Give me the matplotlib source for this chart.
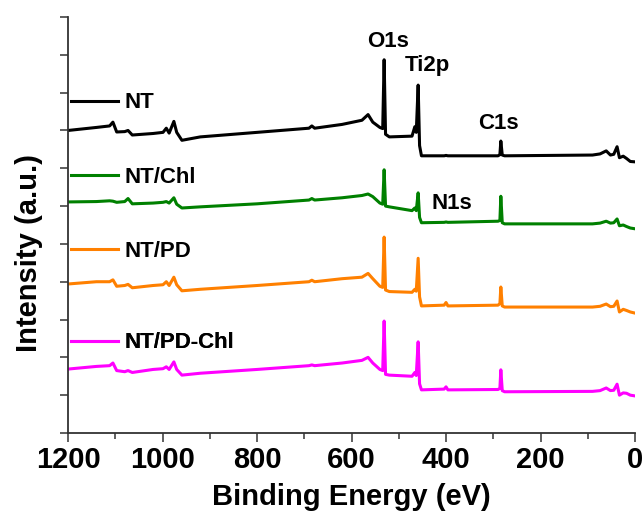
import numpy as np
import matplotlib
matplotlib.use('Agg')
from matplotlib import pyplot as plt

plt.rcParams['font.family'] = ['Liberation Sans', 'DejaVu Sans']
plt.rcParams['font.weight'] = 'bold'

# Binding energy grid (eV) shared by all four survey spectra
energy = [1200, 1140, 1112, 1105, 1097, 1080, 1073, 1064, 1020, 999,
          992, 986, 976, 970, 959, 920, 800, 690, 684, 678,
          620, 578, 565, 555, 540, 534, 531, 528, 520, 472,
          466, 463, 459, 456, 452, 404, 400, 396, 290, 286,
          284, 281, 276, 90, 74, 61, 52, 45, 38, 33,
          25, 18, 10, 0]

nt = [8.00, 8.08, 8.12, 8.22, 7.96, 7.97, 8.00, 7.88, 7.92, 7.95,
      8.06, 7.93, 8.24, 7.95, 7.74, 7.83, 7.95, 8.06, 8.12, 8.06,
      8.16, 8.27, 8.42, 8.22, 8.08, 8.05, 9.87, 7.90, 7.83, 7.85,
      8.10, 7.95, 9.20, 7.60, 7.33, 7.33, 7.34, 7.33, 7.33, 7.36,
      7.72, 7.35, 7.33, 7.35, 7.38, 7.46, 7.35, 7.37, 7.57, 7.28,
      7.32, 7.26, 7.18, 7.17]

nt_chl = [6.11, 6.12, 6.14, 6.13, 6.10, 6.12, 6.20, 6.06, 6.08, 6.10,
          6.12, 6.08, 6.22, 6.05, 5.95, 5.98, 6.06, 6.16, 6.20, 6.16,
          6.22, 6.28, 6.32, 6.25, 6.08, 6.05, 6.96, 6.00, 5.98, 5.88,
          5.95, 5.88, 6.35, 5.70, 5.56, 5.57, 5.58, 5.57, 5.60, 5.62,
          6.26, 5.56, 5.53, 5.53, 5.55, 5.60, 5.55, 5.56, 5.66, 5.48,
          5.50, 5.46, 5.42, 5.40]

nt_pd = [3.94, 4.00, 4.00, 4.05, 3.88, 3.90, 3.93, 3.84, 3.90, 3.92,
         4.00, 3.90, 4.12, 3.92, 3.76, 3.80, 3.90, 4.00, 4.04, 4.00,
         4.08, 4.12, 4.22, 4.08, 3.88, 3.85, 5.18, 3.78, 3.74, 3.72,
         3.80, 3.75, 4.62, 3.60, 3.36, 3.38, 3.45, 3.36, 3.38, 3.42,
         3.86, 3.36, 3.33, 3.33, 3.35, 3.41, 3.34, 3.35, 3.49, 3.20,
         3.27, 3.24, 3.20, 3.17]

nt_pd_chl = [1.69, 1.76, 1.78, 1.85, 1.65, 1.62, 1.65, 1.60, 1.68, 1.70,
             1.75, 1.68, 1.88, 1.68, 1.53, 1.58, 1.68, 1.78, 1.80, 1.78,
             1.85, 1.92, 2.00, 1.85, 1.68, 1.65, 2.96, 1.55, 1.53, 1.50,
             1.60, 1.52, 2.41, 1.30, 1.14, 1.16, 1.22, 1.14, 1.15, 1.18,
             1.67, 1.12, 1.09, 1.10, 1.12, 1.19, 1.12, 1.13, 1.29, 1.00,
             1.06, 1.05, 1.00, 0.98]

names = ['NT', 'NT/Chl', 'NT/PD', 'NT/PD-Chl']
colors = ['black', '#008000', '#FF8000', '#FF00FF']
label_y = [8.73, 6.75, 4.81, 2.38]

peak_names = ['O1s', 'Ti2p', 'C1s', 'N1s']
peak_x = [523, 440, 290, 387]
peak_y = [10.21, 9.58, 8.04, 5.93]

fig, ax = plt.subplots(figsize=(6.43, 5.16), dpi=100)
fig.subplots_adjust(left=0.1058, right=0.9876, top=0.967, bottom=0.1609)

lines = []
for ys, c in zip([nt, nt_chl, nt_pd, nt_pd_chl], colors):
    ln, = ax.plot(energy, ys, color=c, lw=2.2)
    lines.append(ln)

# one small legend per curve, sitting just above it
for ln, name, yy in zip(lines, names, label_y):
    leg = ax.legend([ln], [name], loc='center left', bbox_to_anchor=(1194, yy),
                    bbox_transform=ax.transData, frameon=False, borderpad=0,
                    borderaxespad=0, handlelength=2.1, handletextpad=0.32,
                    prop={'size': 16, 'weight': 'bold'})
    ax.add_artist(leg)

for nm, px, py in zip(peak_names, peak_x, peak_y):
    ax.text(px, py, nm, ha='center', va='baseline', fontsize=16, fontweight='bold')

ax.set_xlim(1200, 0)
ax.set_ylim(0, 11)
ax.set_xticks(np.arange(0, 1201, 200))
ax.set_xticks(np.arange(100, 1200, 200), minor=True)
ax.set_yticks(np.arange(0, 12, 1))
ax.set_yticklabels([])

for s in ['top', 'right']:
    ax.spines[s].set_visible(False)
for s in ['left', 'bottom']:
    ax.spines[s].set_linewidth(1.3)
    ax.spines[s].set_color('#333333')

ax.tick_params(axis='x', which='major', direction='out', length=6.5, width=1.1,
               labelsize=21, pad=3, color='#333333')
ax.tick_params(axis='x', which='minor', direction='out', length=4.3, width=1.1,
               color='#333333')
ax.tick_params(axis='y', which='major', direction='out', length=6, width=1.1,
               color='#333333')
for lb in ax.get_xticklabels():
    lb.set_fontweight('bold')

ax.set_xlabel('Binding Energy (eV)', fontsize=21, fontweight='bold', labelpad=6)
ax.set_ylabel('Intensity (a.u.)', fontsize=21, fontweight='bold')
ax.yaxis.set_label_coords(-0.044, 0.433)

plt.savefig('out.png', dpi=100)
